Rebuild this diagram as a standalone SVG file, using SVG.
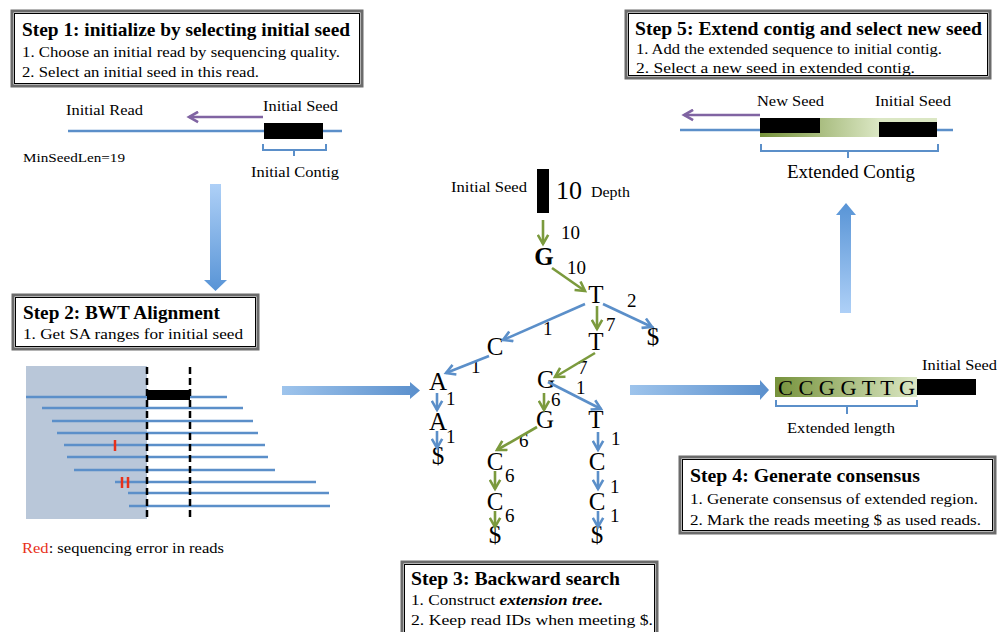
<svg xmlns="http://www.w3.org/2000/svg" width="997" height="632" viewBox="0 0 997 632" font-family="'Liberation Serif', 'Times New Roman', Times, serif">
<style>
text{font-family:"Liberation Serif","Times New Roman",Times,serif;fill:#000}
.ttl{font-size:19px;font-weight:bold}
.ln{font-size:15px}
.lbl{font-size:15px}
.big{font-size:25px}
.num{font-size:19px}
.box1{fill:#fff;stroke:#6b6b6b;stroke-width:3}
.box2{fill:none;stroke:#000;stroke-width:1}
.ba{stroke:#5b8fc9;stroke-width:2.6;fill:none;marker-end:url(#mb)}
.ga{stroke:#7b9a3d;stroke-width:2.6;fill:none;marker-end:url(#mg)}
.pa{stroke:#8064a2;stroke-width:2.6;fill:none;marker-end:url(#mp)}
.read{stroke:#5b8fc9;stroke-width:2.5}
.dash{stroke:#000;stroke-width:2.5;stroke-dasharray:7,4}
.brk{fill:none;stroke:#5b8fc9;stroke-width:2}
</style>
<defs>
<marker id="mb" viewBox="0 0 10 10" refX="8" refY="5" markerWidth="5" markerHeight="5" orient="auto" markerUnits="strokeWidth"><polyline points="1,1 8,5 1,9" fill="none" stroke="#5b8fc9" stroke-width="2"/></marker>
<marker id="mg" viewBox="0 0 10 10" refX="8" refY="5" markerWidth="5" markerHeight="5" orient="auto" markerUnits="strokeWidth"><polyline points="1,1 8,5 1,9" fill="none" stroke="#7b9a3d" stroke-width="2"/></marker>
<marker id="mp" viewBox="0 0 10 10" refX="8" refY="5" markerWidth="5" markerHeight="5" orient="auto" markerUnits="strokeWidth"><polyline points="1,1 8,5 1,9" fill="none" stroke="#8064a2" stroke-width="2"/></marker>
<linearGradient id="gDown" x1="0" y1="0" x2="0" y2="1"><stop offset="0" stop-color="#aed0f7"/><stop offset="1" stop-color="#5894d6"/></linearGradient>
<linearGradient id="gUp" x1="0" y1="1" x2="0" y2="0"><stop offset="0" stop-color="#aed0f7"/><stop offset="1" stop-color="#5894d6"/></linearGradient>
<linearGradient id="gRight" x1="0" y1="0" x2="1" y2="0"><stop offset="0" stop-color="#9ec4ec"/><stop offset="1" stop-color="#5a8fcc"/></linearGradient>
<linearGradient id="gGreen" x1="0" y1="0" x2="1" y2="0"><stop offset="0" stop-color="#76923b"/><stop offset="1" stop-color="#dbe7c4"/></linearGradient>
<linearGradient id="gGreen5" x1="760" y1="0" x2="879" y2="0" gradientUnits="userSpaceOnUse"><stop offset="0" stop-color="#76923b"/><stop offset="1" stop-color="#dbe7c4"/></linearGradient>
</defs>

<!-- Step 1 -->
<g id="step1">
<rect class="box1" x="12" y="11" width="350" height="75"/>
<rect class="box2" x="14.5" y="13.5" width="345" height="70"/>
<text class="ttl" x="22" y="36" textLength="328" lengthAdjust="spacingAndGlyphs">Step 1: initialize by selecting initial seed</text>
<text class="ln" x="22" y="57" textLength="318" lengthAdjust="spacingAndGlyphs">1. Choose an initial read by sequencing quality.</text>
<text class="ln" x="22" y="77" textLength="237" lengthAdjust="spacingAndGlyphs">2. Select an initial seed in this read.</text>
</g>
<g id="step1-graphic">
<line x1="68" y1="131" x2="342" y2="131" stroke="#5b8fc9" stroke-width="2.5"/>
<rect x="264" y="123" width="59" height="16" fill="#000"/>
<line class="pa" x1="263" y1="117" x2="189" y2="117"/>
<path class="brk" d="M263,144 V150 H326 V144 M294,150 V156"/>
<text class="lbl" x="66" y="115" textLength="77" lengthAdjust="spacingAndGlyphs">Initial Read</text>
<text class="lbl" x="263" y="111" textLength="75" lengthAdjust="spacingAndGlyphs">Initial Seed</text>
<text x="23" y="162" font-size="13" textLength="102" lengthAdjust="spacingAndGlyphs">MinSeedLen=19</text>
<text class="lbl" x="251" y="177" textLength="88" lengthAdjust="spacingAndGlyphs">Initial Contig</text>
</g>

<!-- Step 2 -->
<g id="step2">
<rect class="box1" x="13" y="295" width="245" height="54"/>
<rect class="box2" x="15.5" y="297.5" width="240" height="49"/>
<text class="ttl" x="23" y="319" textLength="197" lengthAdjust="spacingAndGlyphs">Step 2: BWT Alignment</text>
<text class="ln" x="23" y="339" textLength="220" lengthAdjust="spacingAndGlyphs">1.   Get SA ranges for initial seed</text>
</g>
<g id="alignment">
<rect x="26" y="366" width="121" height="153" fill="#b9c7d9"/>
<line class="read" x1="26" y1="397" x2="227" y2="397"/>
<line class="read" x1="42" y1="408" x2="243" y2="408"/>
<line class="read" x1="52" y1="421" x2="253" y2="421"/>
<line class="read" x1="57" y1="433" x2="258" y2="433"/>
<line class="read" x1="64" y1="445" x2="265" y2="445"/>
<line class="read" x1="67" y1="457" x2="268" y2="457"/>
<line class="read" x1="74" y1="470" x2="275" y2="470"/>
<line class="read" x1="115" y1="482" x2="316" y2="482"/>
<line class="read" x1="128" y1="493" x2="329" y2="493"/>
<line class="read" x1="129" y1="506" x2="330" y2="506"/>
<rect x="147" y="390" width="43" height="10" fill="#000"/>
<line class="dash" x1="147" y1="367" x2="147" y2="519"/>
<line class="dash" x1="190" y1="367" x2="190" y2="519"/>
<line x1="115" y1="440" x2="115" y2="451" stroke="#e8311a" stroke-width="2.5"/>
<line x1="122" y1="477" x2="122" y2="488" stroke="#e8311a" stroke-width="2.5"/>
<line x1="128" y1="477" x2="128" y2="488" stroke="#e8311a" stroke-width="2.5"/>
<text x="22" y="553" font-size="14" textLength="202" lengthAdjust="spacingAndGlyphs"><tspan fill="#e8311a">Red</tspan>: sequencing error in reads</text>
</g>

<!-- Step 3 tree -->
<g id="seed">
<text class="lbl" x="451" y="192" textLength="76" lengthAdjust="spacingAndGlyphs">Initial Seed</text>
<rect x="537" y="169" width="12" height="44" fill="#000"/>
<text x="556" y="199" font-size="26">10</text>
<text class="lbl" x="591" y="197" textLength="39" lengthAdjust="spacingAndGlyphs">Depth</text>
</g>
<g id="tree-nodes" text-anchor="middle">
<text class="big" x="544" y="265" font-weight="bold">G</text>
<text class="big" x="596" y="303">T</text>
<text class="big" x="653" y="345">$</text>
<text class="big" x="596" y="350">T</text>
<text class="big" x="495" y="355">C</text>
<text class="big" x="438" y="390">A</text>
<text class="big" x="546" y="388">G</text>
<text class="big" x="438" y="430">A</text>
<text class="big" x="438" y="464">$</text>
<text class="big" x="545" y="428">G</text>
<text class="big" x="596" y="428">T</text>
<text class="big" x="495" y="470">C</text>
<text class="big" x="597" y="470">C</text>
<text class="big" x="495" y="510">C</text>
<text class="big" x="597" y="510">C</text>
<text class="big" x="495" y="543">$</text>
<text class="big" x="597" y="543">$</text>
</g>
<g id="tree-labels">
<text class="num" x="561" y="239">10</text>
<text class="num" x="567" y="274">10</text>
<text class="num" x="627" y="307">2</text>
<text class="num" x="543" y="335">1</text>
<text class="num" x="606" y="331">7</text>
<text class="num" x="471" y="373">1</text>
<text class="num" x="578" y="374">7</text>
<text class="num" x="576" y="394">1</text>
<text class="num" x="446" y="405">1</text>
<text class="num" x="551" y="406">6</text>
<text class="num" x="446" y="443">1</text>
<text class="num" x="519" y="447">6</text>
<text class="num" x="611" y="445">1</text>
<text class="num" x="505" y="482">6</text>
<text class="num" x="610" y="493">1</text>
<text class="num" x="505" y="522">6</text>
<text class="num" x="610" y="522">1</text>
</g>

<g id="step3">
<rect class="box1" x="402" y="562" width="255" height="80"/>
<rect class="box2" x="404.5" y="564.5" width="250" height="75"/>
<text class="ttl" x="411" y="585" textLength="209" lengthAdjust="spacingAndGlyphs">Step 3:  Backward search</text>
<text class="ln" x="411" y="605" textLength="192" lengthAdjust="spacingAndGlyphs">1.   Construct <tspan font-weight="bold" font-style="italic">extension tree.</tspan></text>
<text class="ln" x="411" y="625" textLength="242" lengthAdjust="spacingAndGlyphs">2.   Keep read IDs when meeting $.</text>
</g>

<!-- Step 4 -->
<g id="consensus">
<rect x="775" y="377" width="142" height="20" fill="url(#gGreen)"/>
<text x="778" y="395" font-size="22" textLength="137" lengthAdjust="spacingAndGlyphs">C C G G T T G</text>
<rect x="917" y="379" width="59" height="16" fill="#000"/>
<text class="lbl" x="922" y="370" textLength="75" lengthAdjust="spacingAndGlyphs">Initial Seed</text>
<path class="brk" d="M776,400 V406 H917 V400 M847,406 V414"/>
<text class="lbl" x="787" y="433" textLength="108" lengthAdjust="spacingAndGlyphs">Extended length</text>
</g>
<g id="step4">
<rect class="box1" x="680" y="457" width="315" height="76"/>
<rect class="box2" x="682.5" y="459.5" width="310" height="71"/>
<text class="ttl" x="690" y="482" textLength="230" lengthAdjust="spacingAndGlyphs">Step 4:  Generate consensus</text>
<text class="ln" x="690" y="504" textLength="288" lengthAdjust="spacingAndGlyphs">1.   Generate consensus of extended region.</text>
<text class="ln" x="690" y="525" textLength="291" lengthAdjust="spacingAndGlyphs">2.   Mark the reads meeting $ as used reads.</text>
</g>

<!-- Step 5 -->
<g id="step5">
<rect class="box1" x="626" y="11" width="364" height="67"/>
<rect class="box2" x="628.5" y="13.5" width="359" height="62"/>
<text class="ttl" x="635" y="35" textLength="347" lengthAdjust="spacingAndGlyphs">Step 5:  Extend contig and select new seed</text>
<text class="ln" x="636" y="54" textLength="306" lengthAdjust="spacingAndGlyphs">1.   Add the extended sequence to initial contig.</text>
<text class="ln" x="636" y="73" textLength="279" lengthAdjust="spacingAndGlyphs">2.   Select a new seed in extended contig.</text>
</g>
<g id="step5-graphic">
<line x1="680" y1="130" x2="953" y2="130" stroke="#5b8fc9" stroke-width="2.5"/>
<rect x="760" y="118" width="177" height="19" fill="url(#gGreen5)"/>
<rect x="760" y="118" width="60" height="15" fill="#000"/>
<rect x="879" y="122" width="58" height="15" fill="#000"/>
<line class="pa" x1="760" y1="115" x2="684" y2="115"/>
<text class="lbl" x="757" y="106" textLength="67" lengthAdjust="spacingAndGlyphs">New Seed</text>
<text class="lbl" x="875" y="106" textLength="76" lengthAdjust="spacingAndGlyphs">Initial Seed</text>
<path class="brk" d="M761,144 V151 H938 V144 M848,151 V158"/>
<text x="787" y="178" font-size="19" textLength="128" lengthAdjust="spacingAndGlyphs">Extended Contig</text>
</g>

<!-- Connectors -->
<g id="connectors">
<line class="ga" x1="543" y1="220" x2="543" y2="244"/>
<line class="ga" x1="552" y1="268" x2="585" y2="291"/>
<line class="ga" x1="597" y1="306" x2="597" y2="329"/>
<line class="ga" x1="595" y1="353" x2="555" y2="377"/>
<line class="ga" x1="544" y1="393" x2="544" y2="410"/>
<line class="ga" x1="537" y1="427" x2="497" y2="450"/>
<line class="ga" x1="495" y1="471" x2="495" y2="489"/>
<line class="ga" x1="495" y1="511" x2="495" y2="527"/>
<line class="ba" x1="585" y1="304" x2="503" y2="340"/>
<line class="ba" x1="603" y1="304" x2="652" y2="327"/>
<line class="ba" x1="489" y1="356" x2="446" y2="373"/>
<line class="ba" x1="437" y1="393" x2="437" y2="410"/>
<line class="ba" x1="437" y1="431" x2="437" y2="448"/>
<line class="ba" x1="548" y1="382" x2="601" y2="409"/>
<line class="ba" x1="598" y1="432" x2="598" y2="450"/>
<line class="ba" x1="598" y1="471" x2="598" y2="489"/>
<line class="ba" x1="598" y1="511" x2="598" y2="527"/>
<polygon points="210,184 221,184 221,280 227,280 215.5,291 204,280 210,280" fill="url(#gDown)"/>
<polygon points="282,386 410,386 410,382 420,390.5 410,399 410,395 282,395" fill="url(#gRight)"/>
<polygon points="630,385 760,385 760,380 769,390 760,400 760,395 630,395" fill="url(#gRight)"/>
<polygon points="840,313 851,313 851,215 856,215 846,203 836,215 840,215" fill="url(#gUp)"/>
</g>
</svg>
